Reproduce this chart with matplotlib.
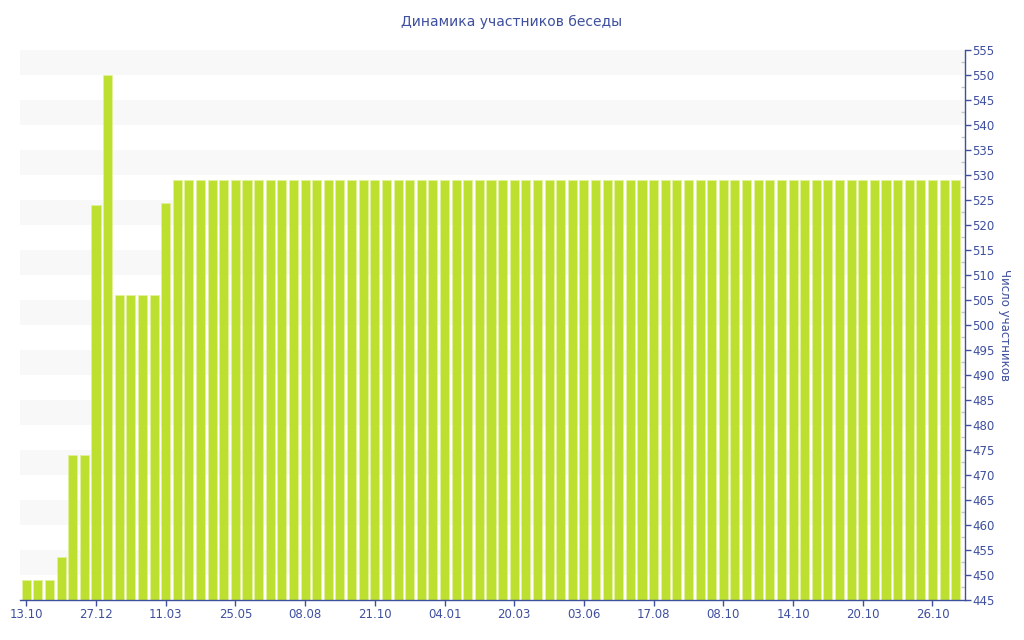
import numpy as np
import matplotlib
matplotlib.use("Agg")
import matplotlib.pyplot as plt
from matplotlib.ticker import MultipleLocator

TITLE = "Динамика участников беседы"
YLABEL = "Число участников"
TICK_LABELS = ["13.10", "27.12", "11.03", "25.05", "08.08", "21.10", "04.01",
               "20.03", "03.06", "17.08", "08.10", "14.10", "20.10", "26.10"]
TICK_STEP = 6
VALUES = ([449, 449, 449, 453.5, 474, 474, 524, 550, 506, 506, 506, 506, 524.3]
          + [529] * 68)

INK = "#3e4f9e"
BAR = "#bde030"
BAND = "#f8f8f8"

fig = plt.figure(figsize=(10.24, 6.4), dpi=100)
ax = fig.add_axes([20 / 1024, 40 / 640, 945 / 1024, 550 / 640])

x = np.arange(len(VALUES))
vals = np.array(VALUES)
ax.bar(x, vals - 445, bottom=445, width=0.78, color=BAR, edgecolor="#e4f29a",
       linewidth=0.5, zorder=2)

for lo in range(450, 555, 10):
    ax.axhspan(lo, lo + 5, color=BAND, zorder=0, lw=0)

ax.set_xlim(-0.54, 80.8)
ax.set_ylim(445, 555)

ax.yaxis.tick_right()
ax.yaxis.set_label_position("right")
ax.yaxis.set_major_locator(MultipleLocator(5))
ax.yaxis.set_minor_locator(MultipleLocator(2.5))
ax.tick_params(axis="y", which="major", direction="out", length=4, width=1,
               color=INK, labelcolor=INK, labelsize=8.5, pad=1)
ax.tick_params(axis="y", which="minor", direction="in", length=3, width=1,
               color="#c8c8c8")
ax.set_ylabel(YLABEL, rotation=270, color=INK, fontsize=8.5, labelpad=12)

ticks = x[::TICK_STEP][:len(TICK_LABELS)]
ax.set_xticks(ticks)
ax.set_xticklabels(TICK_LABELS)
ax.tick_params(axis="x", direction="out", length=4, width=1, color=INK,
               labelcolor=INK, labelsize=8.5, pad=2)

for s in ("top", "left"):
    ax.spines[s].set_visible(False)
for s in ("right", "bottom"):
    ax.spines[s].set_color(INK)
    ax.spines[s].set_linewidth(1)

fig.text(512 / 1024, 1 - 22 / 640, TITLE, ha="center", va="center",
         color=INK, fontsize=10)

fig.savefig("out.png", dpi=100)
